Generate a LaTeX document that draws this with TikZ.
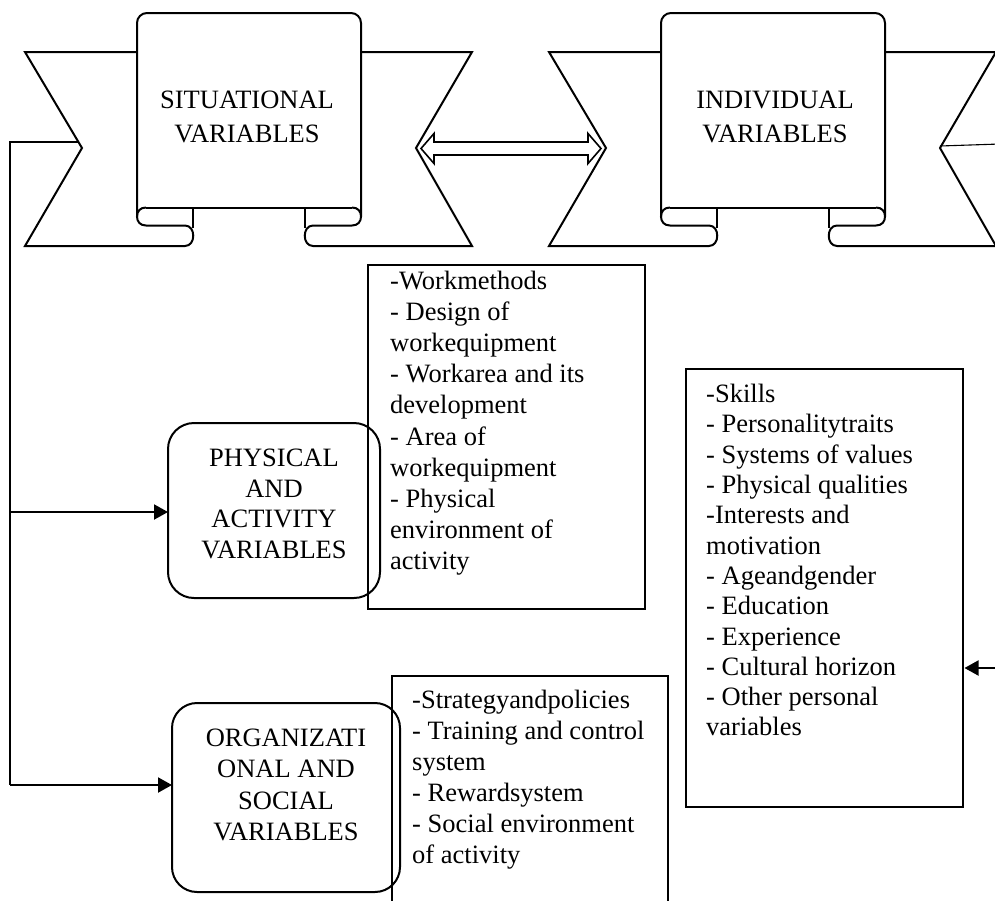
\documentclass[tikz,border=0pt]{standalone}
\usepackage{fontspec}
\setmainfont{Liberation Serif}
\usetikzlibrary{arrows.meta}
\begin{document}
\begin{tikzpicture}[x=1pt,y=-1pt,
  bline/.style={line width=2pt, line join=miter},
  thinline/.style={line width=1.1pt},
  arrowline/.style={line width=2pt, -{Triangle[length=14pt,width=15pt]}},
  rbox/.style={draw, line width=2pt, rounded corners=26pt, inner sep=0pt, outer sep=0pt, anchor=north west},
  listbox/.style={draw, line width=1.1pt, inner sep=0pt, outer sep=0pt, anchor=north west},
  ttl/.style={align=center, inner sep=0pt, font=\fontsize{26.5}{30.7}\selectfont},
  listtxt/.style={align=left, inner sep=0pt, anchor=north west},
]
\useasboundingbox (0,0) rectangle (995,900);
\begin{scope}
\clip (0,0) rectangle (995,900);

% ---------- banners ----------
\foreach \dx in {0,524}{
\begin{scope}[xshift=\dx pt]
  \draw[bline, rounded corners=10pt] (137,216.5) -- (137,13) -- (361,13) -- (361,216.5);
  \draw[bline] (146,207.5) -- (352,207.5);
  \draw[bline] (146,207.5) .. controls (140,207.5) and (137,211.5) .. (137,216.5)
               .. controls (137,221.5) and (140,225.5) .. (146,225.5) -- (185,225.5)
               .. controls (196,225.5) and (196,246) .. (185,246) -- (25,246) -- (82,148) -- (25,52) -- (137,52);
  \draw[bline] (352,207.5) .. controls (358,207.5) and (361,211.5) .. (361,216.5)
               .. controls (361,221.5) and (358,225.5) .. (352,225.5) -- (313,225.5)
               .. controls (302,225.5) and (302,246) .. (313,246) -- (472,246) -- (416,148) -- (472,52) -- (361,52);
  \draw[bline] (192.5,207.5) -- (192.5,228);
  \draw[bline] (304.5,207.5) -- (304.5,228);
\end{scope}}

\node[ttl, font=\fontsize{26.5}{34}\selectfont] (sit) at (247,117) {SITUATIONAL\\VARIABLES};
\node[ttl, font=\fontsize{26.5}{34}\selectfont] (ind) at (775,117) {INDIVIDUAL\\VARIABLES};

% double arrow between banners
\draw[line width=1.6pt, line join=miter] (421,148.5) -- (434,133.5) -- (434,142) -- (588,142) -- (588,133.5)
   -- (601,148.5) -- (588,163.5) -- (588,155) -- (434,155) -- (434,163.5) -- cycle;

% ---------- boxes ----------
\node[rbox, minimum width=212pt, minimum height=175pt] (phys) at (168,423) {};
\node[ttl] (physT) at (274,504) {PHYSICAL\\AND\\ACTIVITY\\VARIABLES};

\node[rbox, minimum width=228pt, minimum height=189pt, rounded corners=25pt] (org) at (172,703) {};
\node[ttl, font=\fontsize{26.5}{31.3}\selectfont] (orgT) at (286,785) {ORGANIZATI\\ONAL AND\\SOCIAL\\VARIABLES};

\node[listbox, minimum width=277pt, minimum height=344pt] (work) at (368,265) {};
\node[listtxt, font=\fontsize{26.5}{31.1}\selectfont] (workT) at (390,271) {-Workmethods\\- Design of\\workequipment\\- Workarea and its\\development\\- Area of\\workequipment\\- Physical\\environment of\\activity};

\node[listbox, minimum width=277pt, minimum height=438pt] (skills) at (686,369) {};
\node[listtxt, font=\fontsize{26.5}{30.3}\selectfont] (skillsT) at (706,384) {-Skills\\- Personalitytraits\\- Systems of values\\- Physical qualities\\-Interests and\\motivation\\- Ageandgender\\- Education\\- Experience\\- Cultural horizon\\- Other personal\\variables};

\node[listbox, minimum width=276pt, minimum height=250pt] (strat) at (392,676) {};
\node[listtxt, font=\fontsize{26.5}{31}\selectfont] (stratT) at (412,690) {-Strategyandpolicies\\- Training and control\\system\\- Rewardsystem\\- Social environment\\of activity};

% ---------- connectors ----------
\coordinate (sitL) at (78,142);
\coordinate (jTop) at (10,142);
\coordinate (jPhys) at (10,512);
\coordinate (jOrg) at (10,785);
\draw[thinline] (sitL) -- (jTop) -- (jOrg);
\draw[arrowline] (jPhys) -- (jPhys -| phys.west);
\draw[arrowline] (jOrg) -- (jOrg -| org.west);

\coordinate (indR) at (940,146);
\coordinate (rTop) at (1000,144);
\coordinate (rBot) at (1000,668);
\draw[thinline] (indR) -- (rTop) -- (rBot);
\draw[arrowline] (rBot) -- ([xshift=1.5pt]rBot -| skills.east);
\end{scope}
\end{tikzpicture}
\end{document}
